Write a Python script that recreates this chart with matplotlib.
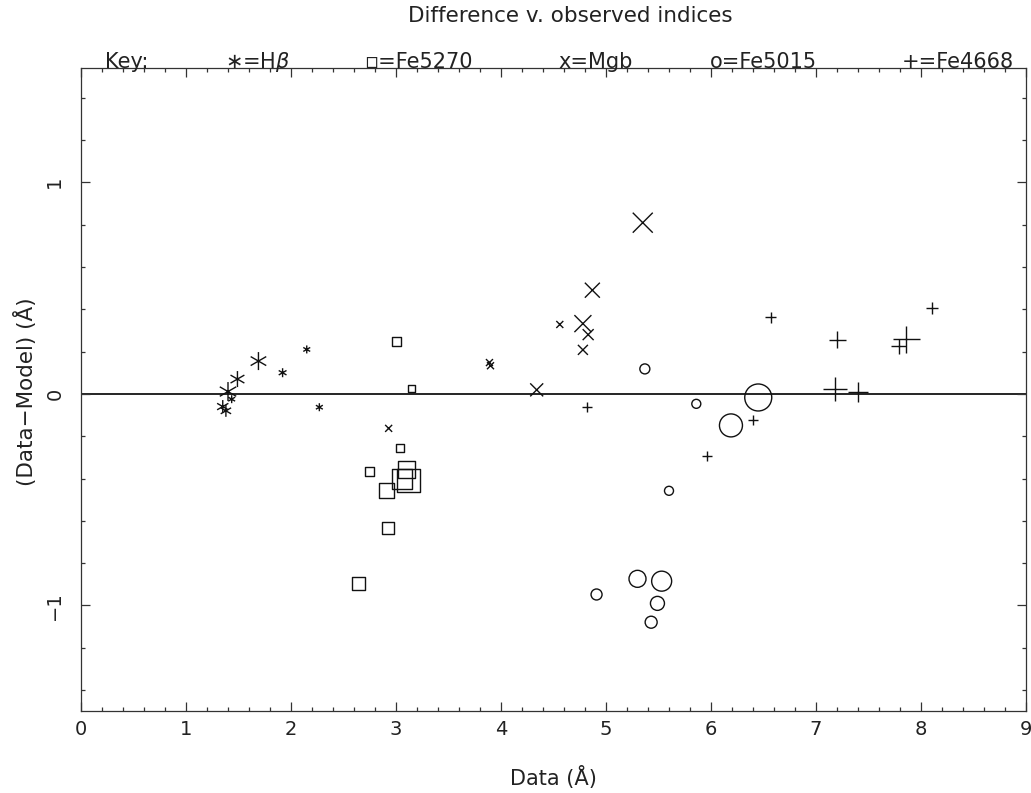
import numpy as np
import matplotlib
matplotlib.use("Agg")
import matplotlib.pyplot as plt
from matplotlib.path import Path
from matplotlib.ticker import MultipleLocator

plt.rcParams['font.family'] = ['DejaVu Sans']

# H-beta (asterisks)
hb_x = [1.69, 1.49, 1.40, 1.435, 1.35, 1.38, 1.92, 2.15, 2.27]
hb_y = [0.155, 0.07, 0.011, -0.025, -0.06, -0.08, 0.10, 0.21, -0.063]
hb_px = [18, 16, 19, 8, 13, 12, 9, 8, 8]

# Fe5270 (squares)
fe5270_x = [3.00, 3.15, 3.04, 2.75, 3.10, 3.06, 3.12, 2.91, 2.92, 2.64]
fe5270_y = [0.248, 0.025, -0.254, -0.365, -0.355, -0.40, -0.41, -0.458, -0.634, -0.897]
fe5270_px = [9, 7, 8, 9, 17, 20, 23, 15, 12, 13]

# Mgb (crosses)
mgb_x = [5.35, 4.87, 4.56, 4.78, 4.83, 4.78, 3.89, 3.90, 4.34, 2.93]
mgb_y = [0.809, 0.49, 0.328, 0.332, 0.28, 0.208, 0.148, 0.133, 0.019, -0.163]
mgb_px = [20, 15, 7, 17, 11, 10, 7, 7, 13, 7]

# Fe5015 (circles)
fe5015_x = [5.37, 5.86, 6.45, 6.19, 5.60, 4.91, 5.30, 5.53, 5.49, 5.43]
fe5015_y = [0.118, -0.047, -0.017, -0.149, -0.458, -0.948, -0.874, -0.885, -0.99, -1.079]
fe5015_px = [10, 9, 27, 23, 9, 11, 17, 20, 14, 12]

# Fe4668 (plus)
fe4668_x = [4.82, 6.57, 5.96, 6.40, 8.10, 7.20, 7.86, 7.79, 7.18, 7.40]
fe4668_y = [-0.063, 0.362, -0.292, -0.123, 0.404, 0.256, 0.257, 0.224, 0.022, 0.011]
fe4668_px = [10, 11, 10, 10, 12, 17, 27, 15, 24, 20]

# six-armed asterisk like pgplot's
c30 = np.cos(np.pi / 6)
star = Path([(0, -1), (0, 1), (-c30, -0.5), (c30, 0.5), (-c30, 0.5), (c30, -0.5)],
            [Path.MOVETO, Path.LINETO] * 3)

def sz(px):
    return (np.array(px) * 0.72) ** 2

fig = plt.figure(figsize=(10.31, 7.93), dpi=100)
ax = fig.add_axes([81 / 1031, 1 - 711.3 / 793, 945 / 1031, (711.3 - 68) / 793])

col = '#111111'
txtcol = '#222222'
ax.axhline(0, color='black', lw=1.2, zorder=1)
ax.scatter(hb_x, hb_y, s=sz(hb_px), marker=star, c=col, linewidths=1.0)
ax.scatter(fe5270_x, fe5270_y, s=sz(fe5270_px), marker='s', facecolors='none', edgecolors=col, linewidths=1.0)
ax.scatter(mgb_x, mgb_y, s=sz(mgb_px), marker='x', c=col, linewidths=1.0)
ax.scatter(fe5015_x, fe5015_y, s=sz(fe5015_px), marker='o', facecolors='none', edgecolors=col, linewidths=1.0)
ax.scatter(fe4668_x, fe4668_y, s=sz(fe4668_px), marker='+', c=col, linewidths=1.0)

ax.set_xlim(0, 9)
ax.set_ylim(-1.5, 1.54)
ax.xaxis.set_major_locator(MultipleLocator(1))
ax.xaxis.set_minor_locator(MultipleLocator(0.2))
ax.yaxis.set_major_locator(MultipleLocator(1))
ax.yaxis.set_minor_locator(MultipleLocator(0.2))
ax.tick_params(which='both', direction='in', top=True, right=True, color='#333333', width=0.9)
ax.tick_params(which='major', length=6.7)
ax.tick_params(which='minor', length=3.0)
ax.tick_params(axis='both', which='major', labelsize=14, labelcolor=txtcol)
ax.tick_params(axis='x', which='major', pad=6)
ax.tick_params(axis='y', which='major', pad=12)
for lab in ax.get_yticklabels():
    lab.set_rotation(90)
    lab.set_va('center')
for sp in ax.spines.values():
    sp.set_linewidth(0.9)
    sp.set_color('#333333')

fig.text(553 / 1031, 1 - 777 / 793, 'Data (Å)', ha='center', va='center', fontsize=15, color=txtcol)
fig.text(26 / 1031, 1 - 392 / 793, '(Data\u2212Model) (Å)', ha='center', va='center',
         rotation=90, fontsize=15.5, color=txtcol)

fig.text(0.5535, 1 - 16 / 793, 'Difference v. observed indices', ha='center', va='center',
         fontsize=15.5, color=txtcol)
key_x = [127, 258, 418, 596, 763, 958]
key_txt = ['Key:', '\u2217=H$\\beta$', '\u25ab=Fe5270', 'x=Mgb', 'o=Fe5015', '+=Fe4668']
for kx, kt in zip(key_x, key_txt):
    fig.text(kx / 1031, 1 - 62 / 793, kt, ha='center', va='center', fontsize=15, color=txtcol)

fig.savefig('out.png', dpi=100)
